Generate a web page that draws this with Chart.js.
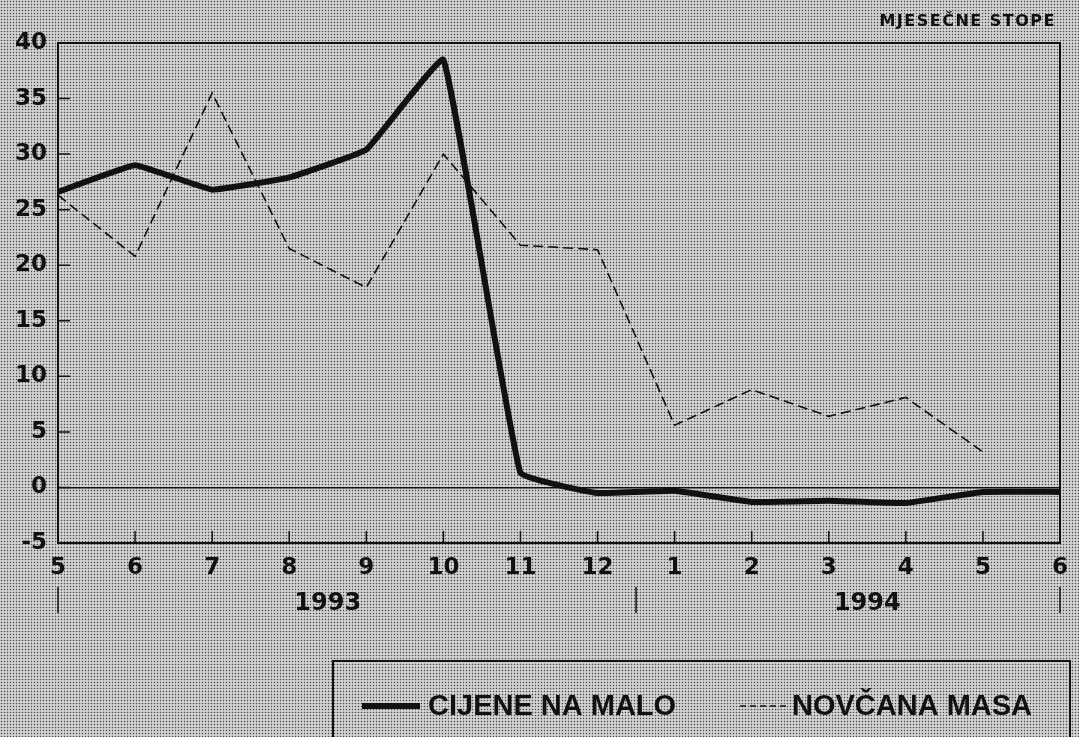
<!DOCTYPE html>
<html>
<head>
<meta charset="utf-8">
<script src="https://cdn.jsdelivr.net/npm/chart.js@4/dist/chart.umd.min.js"></script>
<style>
  html, body {
    margin: 0;
    padding: 0;
    width: 1079px;
    height: 737px;
    overflow: hidden;
    background-color: #d4d4d4;
    background-image: radial-gradient(circle, #4a4a4a 0.6px, transparent 1.1px);
    background-size: 3px 3px;
  }
  #wrap { position: absolute; left: 0; top: 0; width: 1079px; height: 737px; }
</style>
</head>
<body>
<div id="wrap"><canvas id="chart" width="1079" height="737"></canvas></div>
<script>
// monthly labels along the x axis (May 1993 .. June 1994)
const monthLabels = ["5", "6", "7", "8", "9", "10", "11", "12", "1", "2", "3", "4", "5", "6"];
const yearOfMonth = [1993, 1993, 1993, 1993, 1993, 1993, 1993, 1993, 1994, 1994, 1994, 1994, 1994, 1994];
const yearLabels = ["1993", "1994"];

// series values (monthly rates, %)
const cijeneNaMalo = [26.6, 29.0, 26.8, 27.9, 30.4, 38.5, 1.3, -0.5, -0.3, -1.3, -1.2, -1.4, -0.4, -0.4];
const novcanaMasa = [26.3, 20.8, 35.5, 21.5, 18.0, 30.0, 21.8, 21.4, 5.6, 8.8, 6.4, 8.1, 3.2, null];

const seriesNames = ["CIJENE NA MALO", "NOVČANA MASA"];
const chartTitle = "MJESEČNE STOPE";

const INK = "#111";

const decor = {
  id: "decor",
  afterDraw(chart) {
    const { ctx, chartArea: a, scales } = chart;
    const x = scales.x;
    const y = scales.y;
    ctx.save();
    ctx.strokeStyle = INK;
    ctx.fillStyle = INK;

    // frame round the plot
    ctx.lineWidth = 2;
    ctx.strokeRect(a.left, a.top, a.right - a.left, a.bottom - a.top);

    // inward ticks
    ctx.lineWidth = 1.5;
    ctx.beginPath();
    y.ticks.forEach((t) => {
      const py = y.getPixelForValue(t.value);
      ctx.moveTo(a.left, py);
      ctx.lineTo(a.left + 12, py);
    });
    monthLabels.forEach((m, i) => {
      const px = x.getPixelForValue(i);
      ctx.moveTo(px, a.bottom);
      ctx.lineTo(px, a.bottom - 12);
    });
    ctx.stroke();

    // year separators and year labels
    const sepTop = a.bottom + 44;
    const sepBottom = a.bottom + 70;
    ctx.lineWidth = 1.5;
    ctx.beginPath();
    const first = x.getPixelForValue(0);
    const last = x.getPixelForValue(monthLabels.length - 1);
    ctx.moveTo(first, sepTop); ctx.lineTo(first, sepBottom);
    ctx.moveTo(last, sepTop); ctx.lineTo(last, sepBottom);
    for (let i = 1; i < yearOfMonth.length; i++) {
      if (yearOfMonth[i] !== yearOfMonth[i - 1]) {
        const px = (x.getPixelForValue(i - 1) + x.getPixelForValue(i)) / 2;
        ctx.moveTo(px, sepTop); ctx.lineTo(px, sepBottom);
      }
    }
    ctx.stroke();

    ctx.font = "bold 24px 'DejaVu Sans'";
    ctx.textAlign = "center";
    ctx.textBaseline = "middle";
    yearLabels.forEach((yr) => {
      const idx = yearOfMonth.map((v, i) => (String(v) === yr ? i : -1)).filter((i) => i >= 0);
      const cx = (x.getPixelForValue(idx[0]) + x.getPixelForValue(idx[idx.length - 1])) / 2;
      ctx.fillText(yr, cx, a.bottom + 61);
    });

    // title, top right
    ctx.font = "bold 16px 'DejaVu Sans'";
    ctx.letterSpacing = "1.5px";
    ctx.textAlign = "right";
    ctx.fillText(chartTitle, a.right - 4, 22);
    ctx.letterSpacing = "0px";

    // legend box
    ctx.lineWidth = 2;
    ctx.strokeRect(333, 661, 737, 120);
    const ds = chart.data.datasets;
    ctx.font = "bold 29px 'Liberation Sans'";
    ctx.textAlign = "left";
    const ly = 706;
    // solid sample
    ctx.lineWidth = ds[0].borderWidth;
    ctx.setLineDash([]);
    ctx.beginPath(); ctx.moveTo(362, ly); ctx.lineTo(420, ly); ctx.stroke();
    ctx.fillText(ds[0].label, 428, ly + 1);
    // dashed sample
    ctx.lineWidth = ds[1].borderWidth;
    ctx.setLineDash([6, 4]);
    ctx.beginPath(); ctx.moveTo(740, ly); ctx.lineTo(786, ly); ctx.stroke();
    ctx.setLineDash([]);
    ctx.fillText(ds[1].label, 792, ly + 1);

    ctx.restore();
  },
};

new Chart(document.getElementById("chart"), {
  type: "line",
  data: {
    labels: monthLabels,
    datasets: [
      {
        label: seriesNames[0],
        data: cijeneNaMalo,
        borderColor: INK,
        borderWidth: 6,
        pointRadius: 0,
        tension: 0.08,
        borderJoinStyle: "round",
      },
      {
        label: seriesNames[1],
        data: novcanaMasa,
        borderColor: INK,
        borderWidth: 1.6,
        borderDash: [10, 5],
        pointRadius: 0,
        tension: 0,
      },
    ],
  },
  options: {
    responsive: false,
    animation: false,
    layout: { padding: { top: 43, right: 12, left: 0, bottom: 0 } },
    plugins: {
      legend: { display: false },
      tooltip: { enabled: false },
      title: { display: false },
    },
    scales: {
      x: {
        offset: false,
        grid: { display: false, drawTicks: false },
        border: { display: true, color: INK, width: 2 },
        ticks: {
          color: INK,
          padding: 11,
          maxRotation: 0,
          autoSkip: false,
          font: { family: "DejaVu Sans", weight: "bold", size: 23 },
        },
        afterFit(scale) { scale.height = 194; },
      },
      y: {
        min: -5,
        max: 40,
        grid: {
          drawTicks: false,
          color: (c) => (c.tick && c.tick.value === 0 ? INK : "rgba(0,0,0,0)"),
          lineWidth: 1.5,
        },
        border: { display: true, color: INK, width: 2 },
        ticks: {
          stepSize: 5,
          color: INK,
          padding: 11,
          font: { family: "DejaVu Sans", weight: "bold", size: 23 },
        },
        afterFit(scale) { scale.width = 58; },
      },
    },
  },
  plugins: [decor],
});
</script>
</body>
</html>
